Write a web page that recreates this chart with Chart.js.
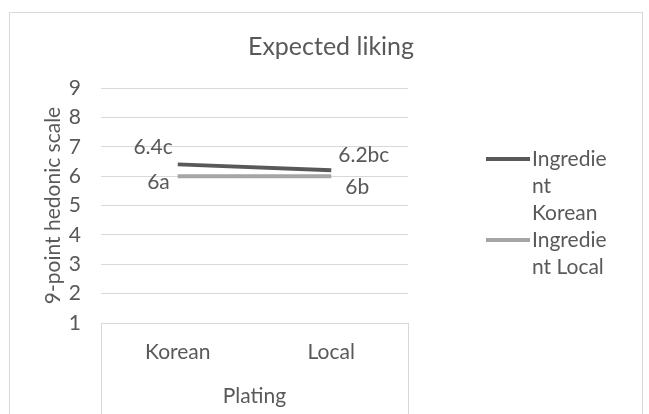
<!DOCTYPE html>
<html>
<head>
<meta charset="utf-8">
<script src="https://cdn.jsdelivr.net/npm/chart.js@4.4.1/dist/chart.umd.min.js"></script>
<style>
  html, body { margin: 0; padding: 0; background: #ffffff; overflow: hidden; }
  #wrap { width: 649px; height: 414px; }
</style>
</head>
<body>
<div id="wrap"><canvas id="chart" width="649" height="414"></canvas></div>
<script>
// ---- data ----
const chartTitle = 'Expected liking';
const categories = ['Korean', 'Local'];
const xAxisTitle = 'Plating';
const yAxisTitle = '9-point hedonic scale';
const seriesNames = ['Ingredient Korean', 'Ingredient Local'];
const ingredientKorean = [6.4, 6.2];
const ingredientLocal = [6.0, 6.0];
const lettersKorean = ['c', 'bc'];
const lettersLocal = ['a', 'b'];
const yTicks = [1, 2, 3, 4, 5, 6, 7, 8, 9];

// ---- styling ----
const TEXT = '#595959';
const GRID = '#d9d9d9';
const FONT = 'Lato, "Noto Sans", sans-serif';
const SIZE = 21;
const seriesColors = ['#595959', '#a5a5a5'];

// label placement per series / point: side of the point and offsets
const labelPlacement = [
  [{ side: 'left', dx: -5, dy: -17 }, { side: 'right', dx: 7, dy: -15 }],
  [{ side: 'left', dx: -8, dy: 6 },   { side: 'right', dx: 14, dy: 11 }]
];

function fmt(v) { return String(Number(v.toFixed(1))); }

// background, outer frame, title and category-axis separators
const framePlugin = {
  id: 'frame',
  beforeDraw(chart) {
    const ctx = chart.ctx;
    ctx.save();
    ctx.fillStyle = '#ffffff';
    ctx.fillRect(0, 0, chart.width, chart.height);
    ctx.strokeStyle = GRID;
    ctx.lineWidth = 1;
    ctx.strokeRect(9.5, 12.5, 633, 440);
    ctx.fillStyle = TEXT;
    ctx.font = `25px ${FONT}`;
    ctx.textAlign = 'center';
    ctx.textBaseline = 'middle';
    ctx.fillText(chartTitle, 331, 47);
    ctx.restore();
  },
  afterDraw(chart) {
    const ctx = chart.ctx;
    const xs = chart.scales.x;
    const top = chart.chartArea.bottom;
    ctx.save();
    ctx.strokeStyle = GRID;
    ctx.lineWidth = 1;
    ctx.beginPath();
    [xs.left, xs.right].forEach(x => {
      const px = Math.round(x) + 0.5;
      ctx.moveTo(px, top);
      ctx.lineTo(px, chart.height);
    });
    ctx.stroke();
    ctx.restore();
  }
};

// value labels with significance letters
const valueLabels = {
  id: 'valueLabels',
  afterDatasetsDraw(chart) {
    const ctx = chart.ctx;
    ctx.save();
    ctx.font = `${SIZE}px ${FONT}`;
    ctx.fillStyle = TEXT;
    ctx.textBaseline = 'middle';
    chart.data.datasets.forEach((ds, di) => {
      const meta = chart.getDatasetMeta(di);
      meta.data.forEach((pt, i) => {
        const p = labelPlacement[di][i];
        ctx.textAlign = p.side === 'left' ? 'right' : 'left';
        ctx.fillText(fmt(ds.data[i]) + ds.letters[i], pt.x + p.dx, pt.y + p.dy);
      });
    });
    ctx.restore();
  }
};

function wrapText(ctx, text, maxW) {
  const lines = [];
  let cur = '';
  text.split(' ').forEach(word => {
    const cand = cur ? cur + ' ' + word : word;
    if (ctx.measureText(cand).width <= maxW) { cur = cand; return; }
    if (cur) lines.push(cur);
    let w = word;
    while (ctx.measureText(w).width > maxW && w.length > 1) {
      let n = w.length;
      while (n > 1 && ctx.measureText(w.slice(0, n)).width > maxW) n--;
      lines.push(w.slice(0, n));
      w = w.slice(n);
    }
    cur = w;
  });
  if (cur) lines.push(cur);
  return lines;
}

// legend on the right with wrapped entries
const sideLegend = {
  id: 'sideLegend',
  afterDraw(chart) {
    const ctx = chart.ctx;
    const lineH = 27;
    let y = 159;
    ctx.save();
    ctx.font = `${SIZE}px ${FONT}`;
    ctx.textBaseline = 'middle';
    ctx.textAlign = 'left';
    chart.data.datasets.forEach(ds => {
      ctx.strokeStyle = ds.borderColor;
      ctx.lineWidth = 4;
      ctx.beginPath();
      ctx.moveTo(486, y);
      ctx.lineTo(530, y);
      ctx.stroke();
      ctx.fillStyle = TEXT;
      wrapText(ctx, ds.label, 80).forEach(line => {
        ctx.fillText(line, 532, y);
        y += lineH;
      });
    });
    ctx.restore();
  }
};

new Chart(document.getElementById('chart'), {
  type: 'line',
  data: {
    labels: categories,
    datasets: [
      { label: seriesNames[0], data: ingredientKorean, letters: lettersKorean,
        borderColor: seriesColors[0], backgroundColor: seriesColors[0] },
      { label: seriesNames[1], data: ingredientLocal, letters: lettersLocal,
        borderColor: seriesColors[1], backgroundColor: seriesColors[1] }
    ]
  },
  options: {
    responsive: false,
    animation: false,
    devicePixelRatio: 1,
    layout: { padding: { top: 88, right: 241, bottom: 0, left: 0 } },
    elements: {
      line: { borderWidth: 4, tension: 0, borderCapStyle: 'butt' },
      point: { radius: 0, hoverRadius: 0 }
    },
    plugins: {
      legend: { display: false },
      title: { display: false },
      tooltip: { enabled: false }
    },
    scales: {
      x: {
        type: 'category',
        offset: true,
        grid: { display: false, drawTicks: false },
        border: { display: true, color: GRID, width: 1 },
        ticks: { color: TEXT, font: { family: FONT, size: SIZE }, padding: 17 },
        title: { display: true, text: xAxisTitle, color: TEXT,
                 font: { family: FONT, size: SIZE }, padding: { top: 0, bottom: 5 } },
        afterFit(s) { s.height = 91; }
      },
      y: {
        min: 1,
        max: 9,
        afterBuildTicks(s) { s.ticks = yTicks.map(v => ({ value: v })); },
        grid: { color: GRID, lineWidth: 1, drawTicks: false },
        border: { display: false },
        ticks: { color: TEXT, font: { family: FONT, size: SIZE }, padding: 20 },
        title: { display: true, text: yAxisTitle, color: TEXT,
                 font: { family: FONT, size: SIZE }, padding: { top: 41, bottom: 0 } },
        afterFit(s) { s.width = 101; }
      }
    }
  },
  plugins: [framePlugin, valueLabels, sideLegend]
});
</script>
</body>
</html>
